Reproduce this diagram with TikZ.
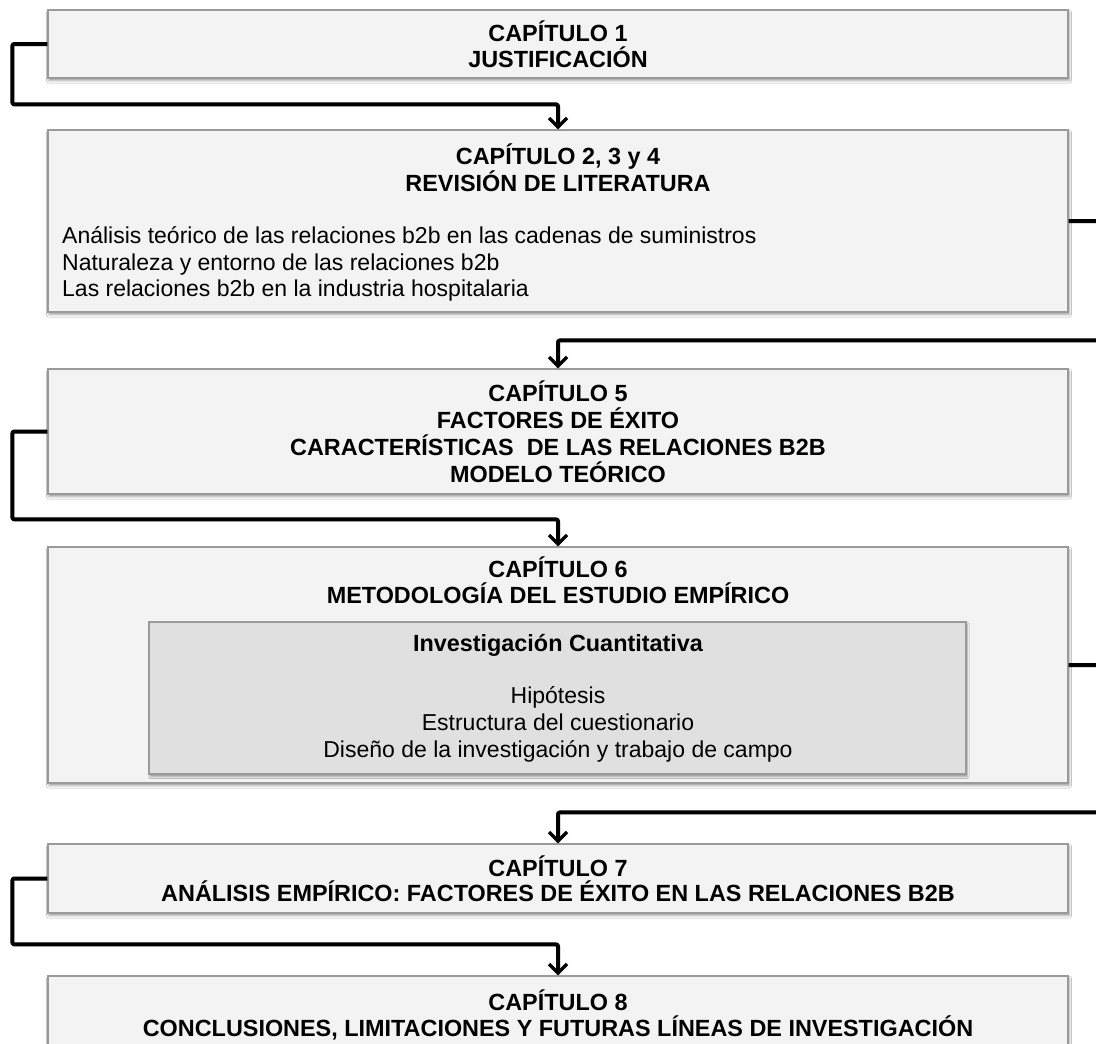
\documentclass[tikz,border=0pt]{standalone}
\usepackage{fontspec}
\setmainfont{Liberation Sans}
\usetikzlibrary{arrows.meta,shadows.blur,calc}
\definecolor{boxfill}{HTML}{F3F3F3}
\definecolor{innerfill}{HTML}{E0E0E0}
\definecolor{boxline}{HTML}{9A9A9A}
\begin{document}
\begin{tikzpicture}[x=1pt,y=1pt,
  chapbox/.style={draw=boxline,line width=1.2pt,fill=boxfill,inner sep=0pt,
    minimum width=1020pt,align=center,
    blur shadow={shadow xshift=1pt,shadow yshift=-2.5pt,shadow blur radius=2.5pt,shadow opacity=40}},
  innerbox/.style={draw=boxline,line width=1.2pt,fill=innerfill,inner sep=0pt,
    blur shadow={shadow xshift=1pt,shadow yshift=-2.5pt,shadow blur radius=2pt,shadow opacity=40}},
  txt/.style={inner sep=0pt,align=center,font=\fontsize{23}{26.5}\selectfont},
  hd/.style={txt,font=\fontsize{23.4}{25.5}\selectfont\bfseries},
  conn/.style={line width=4pt,rounded corners=2pt,line join=round,
    -{Straight Barb[length=9pt,width=18pt,line width=3.4pt]}},
  connshade/.style={line width=4pt,rounded corners=2pt,line join=round,black!35,opacity=0.35}
]
\useasboundingbox (0,0) rectangle (1096,-1044);
\begin{scope}
\clip (0,0) rectangle (1096,-1044);
\fill[white] (0,0) rectangle (1096,-1044);

% chapter boxes
\node[chapbox,minimum height=68pt,hd] (c1) at (558,-44)
  {CAPÍTULO 1\\JUSTIFICACIÓN};
\node[chapbox,minimum height=182pt] (c2) at (558,-221) {};
\node[chapbox,minimum height=125pt,hd,font=\fontsize{23.4}{27}\selectfont\bfseries] (c3) at (558,-431.5)
  {CAPÍTULO 5\\FACTORES DE ÉXITO\\CARACTERÍSTICAS\ \ DE LAS RELACIONES B2B\\MODELO TEÓRICO};
\node[chapbox,minimum height=236pt] (c4) at (558,-665) {};
\node[chapbox,minimum height=69pt,hd] (c5) at (558,-878.5)
  {CAPÍTULO 7\\ANÁLISIS EMPÍRICO: FACTORES DE ÉXITO EN LAS RELACIONES B2B};
\node[chapbox,minimum height=78pt,hd] (c6) at (558,-1015)
  {CAPÍTULO 8\\CONCLUSIONES, LIMITACIONES Y FUTURAS LÍNEAS DE INVESTIGACIÓN};

% contents of chapters 2-4
\node[hd] (c2h) at (558,-168)
  {CAPÍTULO 2, 3 y 4\\REVISIÓN DE LITERATURA};
\node[txt,align=left,anchor=west] (c2l) at (62,-264)
  {Análisis teórico de las relaciones b2b en las cadenas de suministros\\
   Naturaleza y entorno de las relaciones b2b\\
   Las relaciones b2b en la industria hospitalaria};

% contents of chapter 6
\node[hd] (c4h) at (558,-580)
  {CAPÍTULO 6\\METODOLOGÍA DEL ESTUDIO EMPÍRICO};
\node[innerbox,minimum width=817pt,minimum height=152pt] (q) at (557.5,-698) {};
\node[hd] (qh) at (558,-645) {Investigación Cuantitativa};
\node[txt,font=\fontsize{23}{27}\selectfont] (ql) at (558,-724)
  {Hipótesis\\Estructura del cuestionario\\Diseño de la investigación y trabajo de campo};

% connectors: light offset copy underneath, then the line itself
\foreach \s/\o in {connshade/1, conn/0}{
  \begin{scope}[shift={(\o,-1.5*\o)}]
  \draw[\s] (c1.west) -- ++(-35,0) |- ([yshift=25]c2.north) -- (c2.north);
  \draw[\s] (c2.east) -- ++(50,0) |- ([yshift=28]c3.north) -- (c3.north);
  \draw[\s] (c3.west) -- ++(-35,0) |- ([yshift=27]c4.north) -- (c4.north);
  \draw[\s] (c4.east) -- ++(50,0) |- ([yshift=31]c5.north) -- (c5.north);
  \draw[\s] (c5.west) -- ++(-35,0) |- ([yshift=31]c6.north) -- (c6.north);
  \end{scope}
}
\end{scope}
\end{tikzpicture}
\end{document}
